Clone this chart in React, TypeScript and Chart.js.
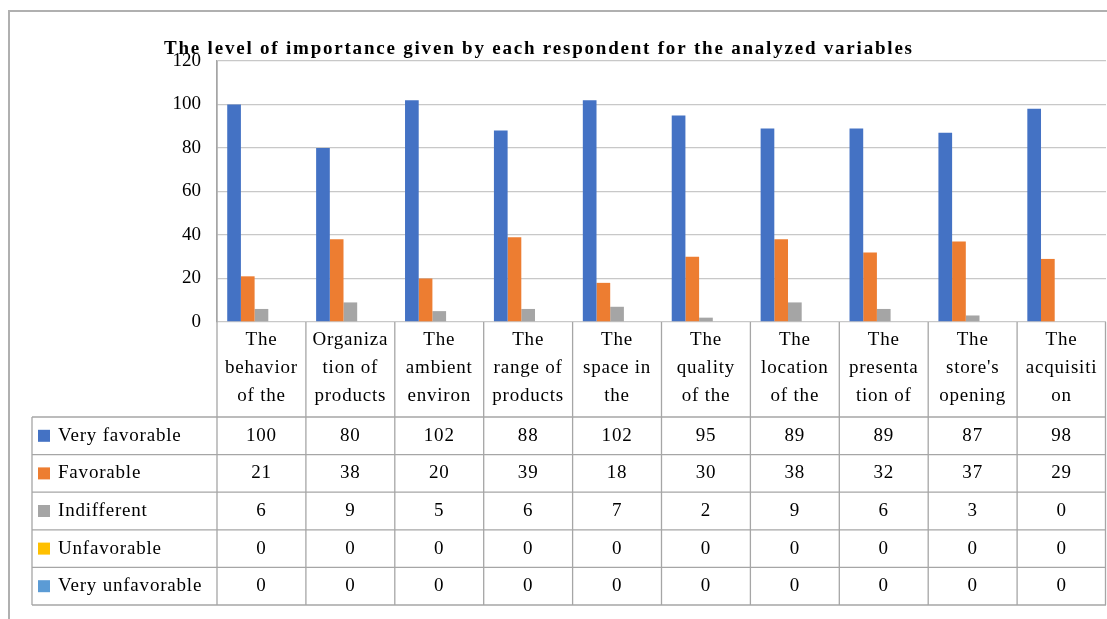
import React, { useEffect, useRef } from "react";
import { Chart, registerables } from "chart.js";

Chart.register(...registerables);

const titleText = "The level of importance given by each respondent for the analyzed variables";
const categoryLines: string[][] = [
  ["The", "behavior", "of the"],
  ["Organiza", "tion of", "products"],
  ["The", "ambient", "environ"],
  ["The", "range of", "products"],
  ["The", "space in", "the"],
  ["The", "quality", "of the"],
  ["The", "location", "of the"],
  ["The", "presenta", "tion of"],
  ["The", "store's", "opening"],
  ["The", "acquisiti", "on"],
];
const seriesNames = ["Very favorable", "Favorable", "Indifferent", "Unfavorable", "Very unfavorable"];
const veryFavorable = [100, 80, 102, 88, 102, 95, 89, 89, 87, 98];
const favorable = [21, 38, 20, 39, 18, 30, 38, 32, 37, 29];
const indifferent = [6, 9, 5, 6, 7, 2, 9, 6, 3, 0];
const unfavorable = [0, 0, 0, 0, 0, 0, 0, 0, 0, 0];
const veryUnfavorable = [0, 0, 0, 0, 0, 0, 0, 0, 0, 0];
const seriesColors = ["#4472C4", "#ED7D31", "#A5A5A5", "#FFC000", "#5B9BD5"];
const yMin = 0;
const yMax = 120;
const yStep = 20;

const FONT = '"Liberation Serif", "Times New Roman", serif';
const LINE = "#a6a6a6";

const tablePlugin = {
  id: "dataTable",
  afterDraw(chart: any) {
    const ctx = chart.ctx as CanvasRenderingContext2D;
    const area = chart.chartArea;
    const xs = chart.scales.x;
    const n = categoryLines.length;
    const colW = (area.right - area.left) / n;
    const tableLeft = 32;
    const labelTop = area.bottom;
    const tableTop = 417;
    const rowH = 37.6;
    const rows = chart.data.datasets.length;
    const tableBottom = tableTop + rows * rowH;

    ctx.save();
    // outer frame
    ctx.strokeStyle = "#b0b0b0";
    ctx.lineWidth = 2;
    ctx.beginPath();
    ctx.moveTo(9, 619);
    ctx.lineTo(9, 11);
    ctx.lineTo(1107, 11);
    ctx.stroke();

    // title
    ctx.fillStyle = "#000";
    ctx.font = `bold 19px ${FONT}`;
    (ctx as any).letterSpacing = "0px";
    const w0 = ctx.measureText(titleText).width;
    const sp = Math.max(0, (748 - w0) / (titleText.length - 1));
    (ctx as any).letterSpacing = sp + "px";
    ctx.textAlign = "left";
    ctx.textBaseline = "middle";
    ctx.fillText(titleText, 164, 49);

    // table lines
    ctx.strokeStyle = LINE;
    ctx.lineWidth = 1.3;
    ctx.beginPath();
    ctx.moveTo(area.left, area.top);
    ctx.lineTo(area.left, tableBottom);
    for (let i = 1; i <= n; i++) {
      const x = i === n ? area.right - 0.5 : xs.getPixelForValue(i) - colW / 2;
      ctx.moveTo(x, labelTop);
      ctx.lineTo(x, tableBottom);
    }
    ctx.moveTo(tableLeft, tableTop);
    ctx.lineTo(tableLeft, tableBottom);
    for (let r = 0; r <= rows; r++) {
      const y = tableTop + r * rowH;
      ctx.moveTo(tableLeft, y);
      ctx.lineTo(area.right, y);
    }
    ctx.stroke();

    // category labels
    ctx.font = `19px ${FONT}`;
    (ctx as any).letterSpacing = "0.8px";
    ctx.textAlign = "center";
    ctx.textBaseline = "middle";
    ctx.fillStyle = "#000";
    for (let i = 0; i < n; i++) {
      const cx = xs.getPixelForValue(i);
      categoryLines[i].forEach((line, k) => {
        ctx.fillText(line, cx, 340 + k * 28);
      });
    }

    // rows
    chart.data.datasets.forEach((ds: any, r: number) => {
      const cy = tableTop + r * rowH + rowH / 2;
      ctx.fillStyle = ds.backgroundColor;
      ctx.fillRect(38, cy - 6, 12, 12);
      ctx.fillStyle = "#000";
      ctx.textAlign = "left";
      ctx.fillText(ds.label, 58, cy);
      ctx.textAlign = "center";
      ds.data.forEach((v: number, i: number) => {
        ctx.fillText(String(v), xs.getPixelForValue(i), cy);
      });
    });
    ctx.restore();
  },
};

export default function App() {
  const ref = useRef<HTMLCanvasElement | null>(null);
  useEffect(() => {
    document.body.style.margin = "0";
    const canvas = ref.current;
    if (!canvas) return;
    const seriesData = [veryFavorable, favorable, indifferent, unfavorable, veryUnfavorable];
    const chart = new Chart(canvas, {
      type: "bar",
      data: {
        labels: categoryLines.map((l) => l.join(" ")),
        datasets: seriesNames.map((name, i) => ({
          label: name,
          data: seriesData[i],
          backgroundColor: seriesColors[i],
          borderWidth: 0,
          categoryPercentage: 0.77,
          barPercentage: 1,
        })),
      },
      options: {
        animation: false,
        responsive: true,
        maintainAspectRatio: false,
        layout: { padding: { top: 61, bottom: 297, left: 0, right: 1 } },
        plugins: {
          legend: { display: false },
          title: { display: false },
          tooltip: { enabled: false },
        },
        scales: {
          x: { display: false },
          y: {
            min: yMin,
            max: yMax,
            ticks: {
              stepSize: yStep,
              padding: 16,
              color: "#000",
              font: { family: FONT, size: 19 },
            },
            grid: { color: "#c8c8c8", lineWidth: 1.3, drawTicks: false },
            border: { display: true, color: LINE, width: 1.3 },
            afterFit: (scale: any) => {
              scale.width = 217;
            },
          },
        },
      },
      plugins: [tablePlugin],
    });
    return () => chart.destroy();
  }, []);
  return (
    <div style={{ position: "relative", width: 1107, height: 619 }}>
      <canvas ref={ref} />
    </div>
  );
}
